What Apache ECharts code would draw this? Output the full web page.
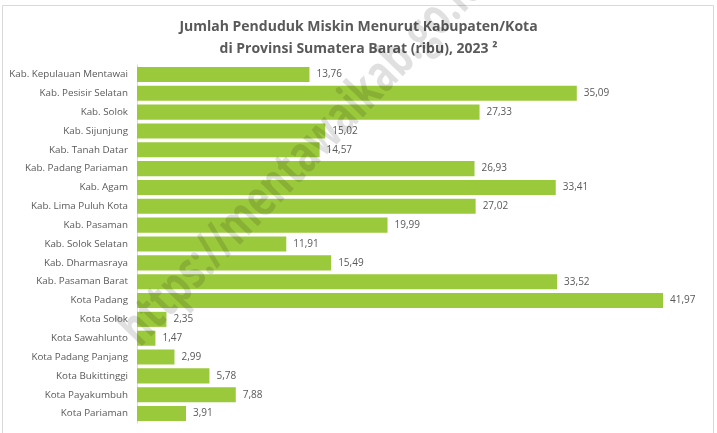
<!DOCTYPE html>
<html>
<head>
<meta charset="utf-8">
<script src="https://cdn.jsdelivr.net/npm/echarts@6/dist/echarts.min.js"></script>
<style>
  html, body { margin: 0; padding: 0; background: #fff; }
  #chart { width: 717px; height: 433px; }
</style>
</head>
<body>
<div id="chart"></div>
<script>
// data
var categories = [
  'Kab. Kepulauan Mentawai', 'Kab. Pesisir Selatan', 'Kab. Solok', 'Kab. Sijunjung',
  'Kab. Tanah Datar', 'Kab. Padang Pariaman', 'Kab. Agam', 'Kab. Lima Puluh Kota',
  'Kab. Pasaman', 'Kab. Solok Selatan', 'Kab. Dharmasraya', 'Kab. Pasaman Barat',
  'Kota Padang', 'Kota Solok', 'Kota Sawahlunto', 'Kota Padang Panjang',
  'Kota Bukittinggi', 'Kota Payakumbuh', 'Kota Pariaman'
]
var miskin = [
  13.76, 35.09, 27.33, 15.02, 14.57, 26.93, 33.41, 27.02, 19.99, 11.91,
  15.49, 33.52, 41.97, 2.35, 1.47, 2.99, 5.78, 7.88, 3.91
]

var chart = echarts.init(document.getElementById('chart'))
var font = '"Open Sans", "Noto Sans", sans-serif'

chart.setOption({
  animation: false,
  title: {
    text: 'Jumlah Penduduk Miskin Menurut Kabupaten/Kota\ndi Provinsi Sumatera Barat (ribu), 2023 ²',
    left: 'center',
    top: 11,
    textStyle: {
      color: '#595959',
      fontFamily: font,
      fontSize: 14,
      fontWeight: 'bold',
      lineHeight: 22
    }
  },
  grid: {
    left: 137,
    top: 65,
    width: 564,
    height: 358
  },
  xAxis: {
    type: 'value',
    min: 0,
    max: 45,
    show: false
  },
  yAxis: {
    type: 'category',
    inverse: true,
    data: categories,
    axisLine: { show: true, lineStyle: { color: '#d9d9d9' } },
    axisTick: { show: false },
    axisLabel: {
      color: '#595959',
      fontFamily: font,
      fontSize: 9.8,
      margin: 9
    }
  },
  series: [
    {
      name: 'Penduduk Miskin',
      type: 'bar',
      data: miskin,
      barCategoryGap: '20%',
      itemStyle: { color: '#9bc93c' },
      label: {
        show: true,
        position: 'right',
        distance: 7,
        color: '#595959',
        fontFamily: font,
        fontSize: 10,
        formatter: function (p) {
          return p.value.toFixed(2).replace('.', ',')
        }
      }
    }
  ],
  graphic: [
    {
      type: 'rect',
      shape: { x: 2.5, y: 5.5, width: 711, height: 440 },
      style: { fill: 'none', stroke: '#d9d9d9', lineWidth: 1 },
      silent: true
    },
    {
      // watermark
      type: 'text',
      x: 148,
      y: 356,
      rotation: 46 * Math.PI / 180,
      scaleX: 0.72,
      z: 100,
      style: {
        text: 'https://mentawaikab.go.id',
        fill: 'rgba(0,0,0,0.12)',
        font: 'bold 52px "Open Sans", sans-serif',
        textAlign: 'left',
        textVerticalAlign: 'bottom'
      },
      silent: true
    }
  ]
})
</script>
</body>
</html>
